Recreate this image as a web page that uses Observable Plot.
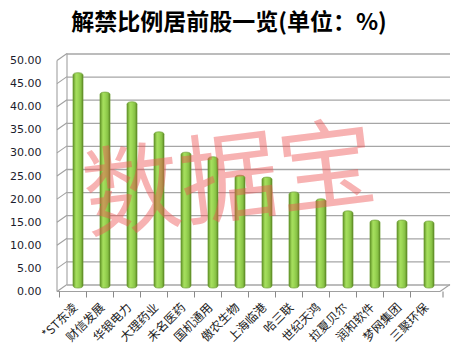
<!DOCTYPE html>
<html><head><meta charset="utf-8">
<script src="https://cdn.jsdelivr.net/npm/d3@7"></script>
<script src="https://cdn.jsdelivr.net/npm/@observablehq/plot@0.6"></script>
<style>
body{margin:0;background:#fff;}
#title{height:40px;line-height:40px;text-align:center;font-weight:bold;font-size:23px;font-family:"Noto Sans CJK SC",sans-serif;color:#000;padding-left:5px;box-sizing:border-box;width:453px;white-space:nowrap}
svg{display:block}
</style></head><body>
<div id="title">解禁比例居前股一览(单位：%)</div>
<div id="chart"></div>
<script>
const titleText = "解禁比例居前股一览(单位：%)";
const categories = ["*ST东凌","财信发展","华银电力","大理药业","未名医药","国机通用","傲农生物","上海临港","哈三联","世纪天鸿","拉夏贝尔","润和软件","梦网集团","三聚环保"];
const values = [46.6, 42.4, 40.3, 33.8, 29.4, 28.4, 24.4, 24.0, 20.8, 19.3, 16.7, 14.7, 14.7, 14.5];
const yTicks = [0, 5, 10, 15, 20, 25, 30, 35, 40, 45, 50];
const watermark = "数据宝";

const data = categories.map((c, i) => ({name: c, value: values[i]}));

const plot = Plot.plot({
  width: 453,
  height: 324,
  marginTop: 17,
  marginBottom: 76,
  marginLeft: 62,
  marginRight: 9,
  style: {fontFamily: "DejaVu Sans, sans-serif", fontSize: "11px", color: "#222", background: "#fff"},
  x: {domain: categories, paddingInner: 0.63, paddingOuter: 0.33, label: null},
  y: {domain: [0, 50], label: null},
  marks: [
    Plot.ruleY(yTicks, {y: d => d, dy: -3.5, insetLeft: 5, insetRight: -6, stroke: "#a6a6a6", strokeWidth: 1.3}),
    Plot.barY(data, {x: "name", y: "value", fill: "url(#barGrad)", stroke: "#6f9f35", strokeWidth: 0.7, rx: 5, ry: 2.5}),
    Plot.text([watermark], {text: d => d, frameAnchor: "middle", dx: -24, dy: 9, rotate: -7, fontSize: 98, fontWeight: 400, fontFamily: "Noto Sans CJK SC", fill: "#ee5555", fillOpacity: 0.45}),
    Plot.axisY(yTicks, {tickSize: 0, tickPadding: 21, dy: 3, tickFormat: d => d.toFixed(2), fontSize: 11, fill: "#1c1c2c"}),
    Plot.axisX({tickSize: 0, tickPadding: 17, dx: -3, tickRotate: -45, fontFamily: "Noto Sans CJK SC", fontSize: 12, fill: "#222", label: null}),
    Plot.axisX({tickSize: 6, dx: -19, dy: 3.5, tickFormat: () => "", stroke: "#8a8a8a", label: null})
  ]
});

const svg = d3.select(plot);
const defs = svg.insert("defs", ":first-child");
const g = defs.append("linearGradient").attr("id", "barGrad").attr("x1", "0").attr("x2", "1").attr("y1", "0").attr("y2", "0");
[["0%", "#5f9124"], ["30%", "#a6df5e"], ["50%", "#9dd856"], ["80%", "#86c044"], ["100%", "#557f1e"]].forEach(([o, c]) => g.append("stop").attr("offset", o).attr("stop-color", c));

// 3D wall decorations derived from the y scale
const ys = plot.scale("y");
const front = v => ys.apply(v) + 3.5;
const back = v => ys.apply(v) - 3.5;
const xF = 57, xB = 67, xFR = 440, xBR = 450;
const deco = svg.insert("g", "defs + *").attr("stroke", "#a0a0a0").attr("stroke-width", 1.1).attr("fill", "none");
deco.append("line").attr("x1", xF).attr("x2", xF).attr("y1", front(50)).attr("y2", front(0));
deco.append("line").attr("x1", xB).attr("x2", xB).attr("y1", back(50)).attr("y2", back(0));
yTicks.forEach(v => deco.append("line").attr("x1", xF).attr("y1", front(v)).attr("x2", xB).attr("y2", back(v)));
deco.append("line").attr("x1", xF).attr("y1", front(0)).attr("x2", xFR).attr("y2", front(0));
deco.append("line").attr("x1", xFR).attr("y1", front(0)).attr("x2", xBR).attr("y2", back(0));
deco.append("line").attr("x1", xFR + 3).attr("y1", front(0)).attr("x2", xFR + 3).attr("y2", front(0) + 6).attr("stroke", "#8a8a8a");

document.getElementById("chart").appendChild(plot);
</script>
</body></html>
